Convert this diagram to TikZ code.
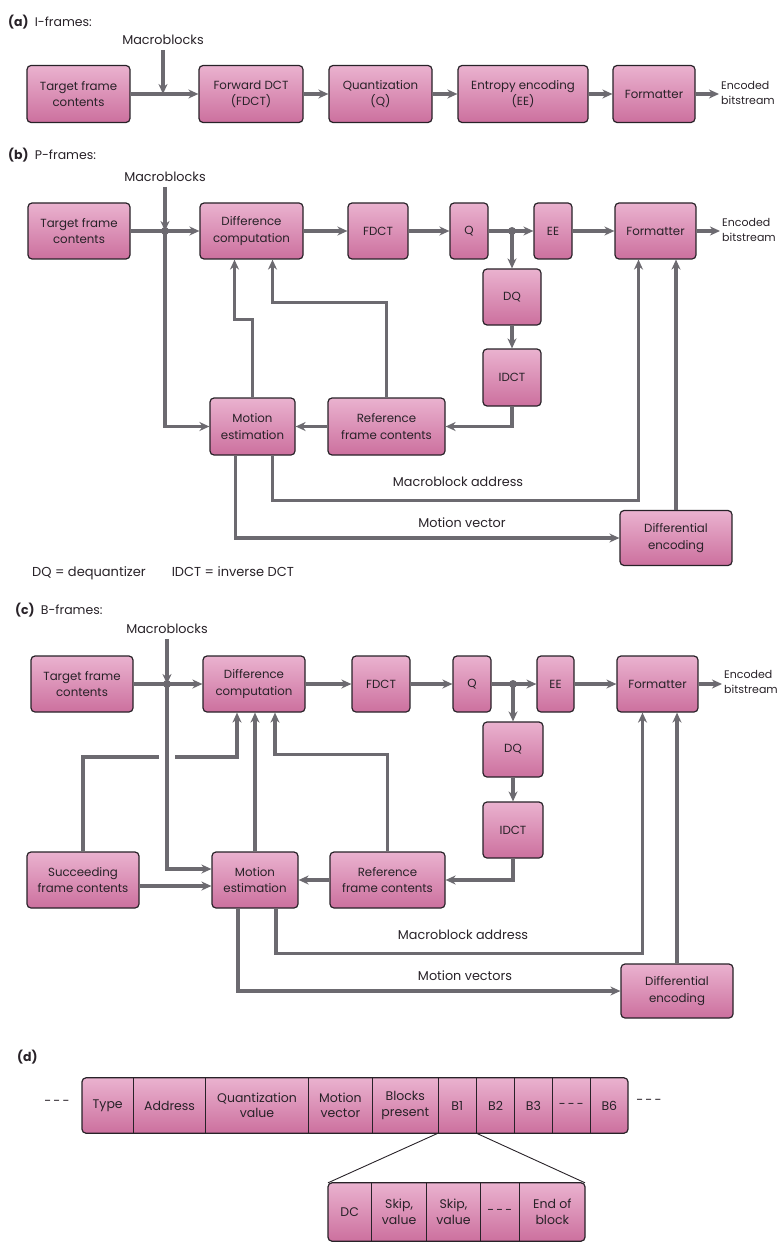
\documentclass[tikz,border=0pt]{standalone}
\usepackage{fontspec}
\setmainfont{Poppins}
\usetikzlibrary{arrows.meta,positioning,backgrounds}
\definecolor{boxpink}{RGB}{234,178,207}
\definecolor{boxdeep}{RGB}{204,112,158}
\definecolor{wire}{RGB}{108,106,112}
\definecolor{ink}{RGB}{40,34,40}

\begin{document}
\begin{tikzpicture}[x=1pt,y=-1pt,
  box/.style={draw=ink, line width=1.2pt, rounded corners=4pt, top color=boxpink, bottom color=boxdeep,
    align=center, inner sep=0pt, text=ink, font=\fontsize{11.8}{16.5}\selectfont},
  sz/.style 2 args={minimum width=#1pt, minimum height=#2pt},
  ln/.style={draw=wire, line width=3.4pt, -{Stealth[length=10pt,width=9pt]}},
  lnplain/.style={draw=wire, line width=3.4pt},
  lbl/.style={inner sep=0pt, align=center, text=ink, font=\fontsize{12.8}{16}\selectfont},
  outtxt/.style={inner sep=0pt, anchor=west, align=left, text=ink, font=\fontsize{11}{15}\selectfont},
  hd/.style={inner sep=0pt, anchor=west, text=ink, font=\fontsize{12.5}{16}\selectfont},
  jdot/.style={circle, fill=wire, inner sep=0pt, minimum size=8pt},
  cell/.style={inner sep=0pt, align=center, text=ink, font=\fontsize{12.5}{15.5}\selectfont}]
\useasboundingbox (0,0) rectangle (782,1246);

% (a) I-frames
\node[hd] (hA) at (8,22) {\textbf{(a)}\enspace I-frames:};
\node[lbl] (mA) at (163,40) {Macroblocks};
\node[box, sz={103}{57}] (tA) at (78.5,94) {Target frame\\contents};
\node[box, sz={104}{57}] (fA) at (251,94) {Forward DCT\\(FDCT)};
\node[box, sz={103}{57}] (qA) at (380.5,94) {Quantization\\(Q)};
\node[box, sz={130}{57}] (eA) at (523,94) {Entropy encoding\\(EE)};
\node[box, sz={82}{57}] (fmA) at (654,94) {Formatter};
\node[outtxt] (oA) at (721,93) {Encoded\\bitstream};
\coordinate (jA) at (mA |- tA.east);
\draw[ln, shorten <=5pt] (mA) -- (jA);
\foreach \a/\b in {tA/fA, fA/qA, qA/eA, eA/fmA}
  \draw[ln] (\a) -- (\b);
\draw[ln, shorten >=2pt] (fmA) -- (oA.west |- fmA);

% (b) P-frames
\node[hd] (hB) at (8,155) {\textbf{(b)}\enspace P-frames:};
\node[lbl] (mB) at (165,177) {Macroblocks};
\node[box, sz={102}{56}] (tB) at (79,231) {Target frame\\contents};
\node[box, sz={103}{56}] (dB) at (251.5,231) {Difference\\computation};
\node[box, sz={60}{56}] (fB) at (378,231) {FDCT};
\node[box, sz={38}{56}] (qB) at (469,231) {Q};
\node[box, sz={38}{56}] (eB) at (553,231) {EE};
\node[box, sz={81}{56}] (fmB) at (655.5,231) {Formatter};
\node[outtxt] (oB) at (722,230) {Encoded\\bitstream};
\node[box, sz={58}{56}] (dqB) at (512,297) {DQ};
\node[box, sz={58}{57}] (idB) at (512,377.5) {IDCT};
\node[box, sz={117}{57}] (rB) at (386.5,426.5) {Reference\\frame contents};
\node[box, sz={85}{57}] (meB) at (252.5,426.5) {Motion\\estimation};
\node[box, sz={112}{55}] (diB) at (676,538) {Differential\\encoding};
\node[lbl] (aB) at (458,482) {Macroblock address};
\node[lbl] (vB) at (462,523) {Motion vector};
\coordinate (jB) at (mB |- tB.east);
\coordinate (jqB) at (dqB |- qB.east);
\draw[ln, shorten <=5pt] (mB) -- (jB);
\draw[ln] (tB) -- (dB);
\foreach \a/\b in {dB/fB, fB/qB, qB/eB, eB/fmB}
  \draw[ln] (\a) -- (\b);
\draw[ln, shorten >=2pt] (fmB) -- (oB.west |- fmB);
\draw[ln] (jqB) -- (dqB);
\draw[ln] (dqB) -- (idB);
\draw[ln] (idB) |- (rB);
\draw[ln] (rB) -- (meB);
\draw[ln] (jB) |- (meB);
\draw[ln] (meB.north) -- ++(0,-78) -| ([xshift=-17pt]dB.south);
\draw[ln] (rB.north) -- ++(0,-95) -| ([xshift=21pt]dB.south);
\draw[ln] ([xshift=-17pt]meB.south) |- (diB);
\draw[ln] ([xshift=20pt]meB.south) -- ++(0,45) -| ([xshift=-17pt]fmB.south);
\draw[ln] (diB) -- (diB |- fmB.south);
\node[jdot] (pB) at (jB) {};
\node[jdot] (pqB) at (jqB) {};
\node[lbl, anchor=west, font=\fontsize{13}{16}\selectfont] (lgB) at (32,573) {DQ = dequantizer\hspace{2em}IDCT = inverse DCT};

% (c) B-frames
\node[hd] (hC) at (15,610) {\textbf{(c)}\enspace B-frames:};
\node[lbl] (mC) at (167,629) {Macroblocks};
\node[box, sz={102}{56}] (tC) at (82,684) {Target frame\\contents};
\node[box, sz={102}{56}] (dC) at (254,684) {Difference\\computation};
\node[box, sz={58}{56}] (fC) at (381,684) {FDCT};
\node[box, sz={38}{56}] (qC) at (472,684) {Q};
\node[box, sz={37}{56}] (eC) at (555.5,684) {EE};
\node[box, sz={81}{56}] (fmC) at (657.5,684) {Formatter};
\node[outtxt] (oC) at (724,682) {Encoded\\bitstream};
\node[box, sz={60}{55}] (dqC) at (513,749.5) {DQ};
\node[box, sz={60}{56}] (idC) at (513,830) {IDCT};
\node[box, sz={115}{56}] (rC) at (387.5,880) {Reference\\frame contents};
\node[box, sz={86}{56}] (meC) at (255,880) {Motion\\estimation};
\node[box, sz={112}{56}] (sC) at (83,880) {Succeeding\\frame contents};
\node[box, sz={112}{54}] (diC) at (677,991) {Differential\\encoding};
\node[lbl] (aC) at (463,935) {Macroblock address};
\node[lbl] (vC) at (465,976) {Motion vectors};
\coordinate (jC) at (mC |- tC.east);
\coordinate (jqC) at (dqC |- qC.east);
\coordinate (kC) at (mC |- 0,757);
\draw[ln, shorten <=5pt] (mC) -- (jC);
\draw[ln] (tC) -- (dC);
\foreach \a/\b in {dC/fC, fC/qC, qC/eC, eC/fmC}
  \draw[ln] (\a) -- (\b);
\draw[ln, shorten >=2pt] (fmC) -- (oC.west |- fmC);
\draw[ln] (jqC) -- (dqC);
\draw[ln] (dqC) -- (idC);
\draw[ln] (idC) |- (rC);
\draw[ln] (rC) -- (meC);
\draw[lnplain] (sC.north) |- ([xshift=-8pt]kC);
\draw[ln] ([xshift=8pt]kC) -| ([xshift=-17pt]dC.south);
\draw[ln] (jC) |- ([yshift=11pt]meC.west);
\draw[ln] ([yshift=-6pt]sC.east) -- ([yshift=-6pt]meC.west);
\draw[ln] (meC) -- (meC |- dC.south);
\draw[ln] (rC.north) -- ++(0,-97) -| ([xshift=21pt]dC.south);
\draw[ln] ([xshift=-17pt]meC.south) |- (diC);
\draw[ln] ([xshift=21pt]meC.south) -- ++(0,45) -| ([xshift=-15pt]fmC.south);
\draw[ln] (diC) -- (diC |- fmC.south);
\node[jdot] (pC) at (jC) {};
\node[jdot] (pqC) at (jqC) {};

% (d) macroblock format
\node[hd] (hD) at (17,1057) {\textbf{(d)}};
\node[cell, sz={51}{55}, anchor=west] (c1) at (82,1105.5) {Type};
\foreach \w/\t [count=\i from 2, remember=\i as \j (initially 1)] in
  {72/Address, 102/{Quantization\\value}, 64/{Motion\\vector}, 65/{Blocks\\present},
   38/B1, 38/B2, 37/B3, 38/{-\,-\,-}, 37/B6}
  \node[cell, sz={\w}{55}, right=0pt of c\j] (c\i) {\t};
\node[cell, sz={43}{58}, anchor=west] (k1) at (328,1212) {DC};
\foreach \w/\t [count=\i from 2, remember=\i as \j (initially 1)] in
  {55/{Skip,\\value}, 53/{Skip,\\value}, 39/{-\,-\,-}, 65/{End of\\block}}
  \node[cell, sz={\w}{58}, right=0pt of k\j] (k\i) {\t};
\begin{scope}[on background layer]
  \path[top color=boxpink, bottom color=boxdeep, rounded corners=4pt] (c1.north west) rectangle (c10.south east);
  \path[top color=boxpink, bottom color=boxdeep, rounded corners=4pt] (k1.north west) rectangle (k5.south east);
\end{scope}
\foreach \i in {1,...,9}
  \draw[ink, line width=0.9pt] (c\i.north east) -- (c\i.south east);
\foreach \i in {1,...,4}
  \draw[ink, line width=0.9pt] (k\i.north east) -- (k\i.south east);
\draw[ink, line width=1.2pt, rounded corners=4pt] (c1.north west) rectangle (c10.south east);
\draw[ink, line width=1.2pt, rounded corners=4pt] (k1.north west) rectangle (k5.south east);
\draw[ink, line width=0.9pt] (c6.south west) -- (k1.north west);
\draw[ink, line width=0.9pt] (c6.south east) -- (k5.north east);
\node[lbl] (lD) at (57,1103) {-\,-\,-};
\node[lbl] (rD) at (649,1102) {-\,-\,-};
\end{tikzpicture}
\end{document}
